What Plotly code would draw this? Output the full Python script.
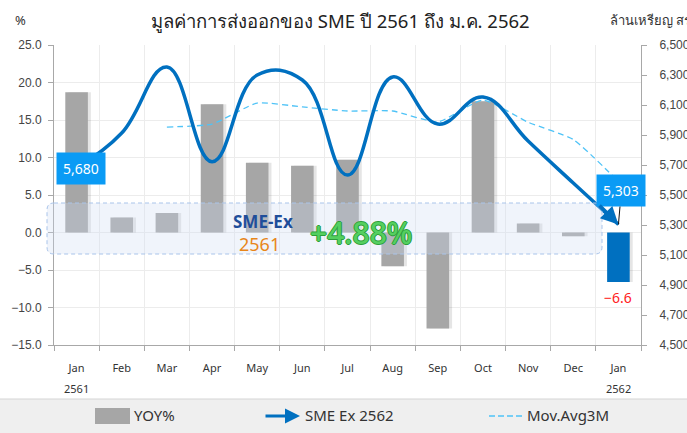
import plotly.graph_objects as go

# ---------------- data ----------------
months = ["Jan", "Feb", "Mar", "Apr", "May", "Jun", "Jul", "Aug", "Sep", "Oct", "Nov", "Dec", "Jan"]
years = {0: "2561", 12: "2562"}
yoy = [18.7, 2.0, 2.6, 17.1, 9.3, 8.9, 9.7, -4.5, -12.8, 17.5, 1.2, -0.5, -6.6]
sme_ex = [5680, 5913, 6353, 5722, 6300, 6267, 5633, 6287, 5973, 6153, 5860, 5580, 5303]
mov_avg_x = [2, 3, 4, 5, 6, 7, 8, 9, 10, 11, 12]
mov_avg = [5953, 5973, 6113, 6087, 6060, 6060, 5987, 6133, 5985, 5870, 5590]
left_ticks = [-15, -10, -5, 0, 5, 10, 15, 20, 25]
right_ticks = [4500, 4700, 4900, 5100, 5300, 5500, 5700, 5900, 6100, 6300, 6500]

x = list(range(len(months)))

# ---------------- geometry helpers (pixel -> paper) ----------------
W, H = 687, 433
ML, MR, MT, MB = 54, 46, 45, 88
PW, PH = W - ML - MR, H - MT - MB


def px(v):
    return (v - ML) / PW


def py(v):
    return (H - MB - v) / PH


GRAY = "#A6A6A6"
BLUE = "#0070C0"
LBLUE = "#4FC3F7"
TAG = "#0A9BF5"

bar_colors = [GRAY] * (len(yoy) - 1) + [BLUE]

fig = go.Figure()

# bar shadow
fig.add_trace(go.Bar(x=x, y=yoy, width=0.5, offset=-0.25 + 3.0 / (PW / 13),
                     marker=dict(color="rgba(0,0,0,0.10)", line=dict(width=0)),
                     hoverinfo="skip", showlegend=False))
fig.add_trace(go.Bar(x=x, y=yoy, width=0.5, offset=-0.25,
                     marker=dict(color=bar_colors, line=dict(width=0)),
                     name="YOY%", showlegend=False))
fig.add_trace(go.Scatter(x=mov_avg_x, y=mov_avg, yaxis="y2", mode="lines",
                         line=dict(color=LBLUE, width=1.3, dash="6px,4px", shape="spline", smoothing=0.5),
                         name="Mov.Avg3M", showlegend=False))
fig.add_trace(go.Scatter(x=x, y=sme_ex, yaxis="y2", mode="lines",
                         line=dict(color=BLUE, width=3.5, shape="spline", smoothing=1.2),
                         name="SME Ex 2562", showlegend=False))

shapes = []
# highlight box (rounded, dashed)
x0, x1 = px(47), px(602)
y1, y0 = py(203), py(254)
rx, ry = 7 / PW, 7 / PH
path = (f"M {x0+rx},{y1} L {x1-rx},{y1} Q {x1},{y1} {x1},{y1-ry} L {x1},{y0+ry} "
        f"Q {x1},{y0} {x1-rx},{y0} L {x0+rx},{y0} Q {x0},{y0} {x0},{y0+ry} "
        f"L {x0},{y1-ry} Q {x0},{y1} {x0+rx},{y1} Z")
shapes.append(dict(type="path", path=path, xref="paper", yref="paper", layer="above",
                   fillcolor="rgba(205,220,242,0.30)",
                   line=dict(color="#A9C4EA", width=1, dash="4px,3px")))
# legend band
shapes.append(dict(type="rect", xref="paper", yref="paper", x0=px(0), x1=px(W), y0=py(399), y1=py(H),
                   fillcolor="#EFEFEF", line=dict(width=0), layer="below"))
shapes.append(dict(type="line", xref="paper", yref="paper", x0=px(0), x1=px(W), y0=py(399), y1=py(399),
                   line=dict(color="#D5D5D5", width=1)))
# legend: gray swatch
shapes.append(dict(type="rect", xref="paper", yref="paper", x0=px(95), x1=px(130), y0=py(424), y1=py(408),
                   fillcolor=GRAY, line=dict(width=0)))
# legend: dashed line
shapes.append(dict(type="line", xref="paper", yref="paper", x0=px(489), x1=px(524), y0=py(416), y1=py(416),
                   line=dict(color=LBLUE, width=1.3, dash="6px,3px")))


def txt(text, xv, yv, size, color, xanchor="center", weight=None, family=None, shadow=None, **kw):
    f = dict(size=size, color=color)
    if weight:
        f["weight"] = weight
    if family:
        f["family"] = family
    if shadow:
        f["shadow"] = shadow
    d = dict(text=text, xref="paper", yref="paper", x=px(xv), y=py(yv), showarrow=False,
             xanchor=xanchor, yanchor="middle", font=f)
    d.update(kw)
    return d


ann = []
# title & axis titles
ann.append(txt("มูลค่าการส่งออกของ SME ปี 2561 ถึง ม.ค. 2562", 340, 20, 18.5, "#222222"))
ann.append(txt("%", 20, 20, 13, "#333333"))
ann.append(txt("ล้านเหรียญ สรอ", 608, 20, 13, "#333333", xanchor="left"))
# year labels
for i, yr in years.items():
    ann.append(dict(text=yr, x=i, xref="x", yref="paper", y=py(388), showarrow=False,
                    xanchor="center", yanchor="middle", font=dict(size=11, color="#333333")))
# value tags
ann.append(dict(text="5,680", x=0, y=sme_ex[0], xref="x", yref="y2", showarrow=False,
                xanchor="center", yanchor="middle",
                xshift=4, bgcolor=TAG, borderpad=6, font=dict(size=14, color="white")))
ann.append(dict(text="5,303", x=12, y=sme_ex[12], xref="x", yref="y2", showarrow=True,
                xanchor="center", yanchor="middle",
                arrowhead=0, arrowwidth=1, arrowcolor="#111111", ax=3, ay=-34,
                bgcolor=TAG, borderpad=6, font=dict(size=14, color="white")))
ann.append(dict(text="−6.6", x=12, y=yoy[12], xref="x", yref="y", yanchor="top", xanchor="center",
                yshift=-4, showarrow=False, font=dict(size=14, color="#FF2020")))
# arrow head at end of SME line
ann.append(dict(text="", x=12, y=sme_ex[12], xref="x", yref="y2", axref="x", ayref="y2",
                ax=11.55, ay=5440, showarrow=True, arrowhead=2, arrowsize=1.0, arrowwidth=3.5,
                arrowcolor=BLUE, standoff=0))
# box texts
ann.append(txt("<b>SME-Ex</b>", 263, 221, 17, "#1F4E9A"))
ann.append(txt("2561", 259, 244, 18, "#E8861A"))
ann.append(txt("+4.88%", 361, 232, 30, "#55CF60", weight=500,
               shadow="1px 0 0 #2C9E3A, -1px 0 0 #2C9E3A, 0 1px 0 #2C9E3A, 0 -1px 0 #2C9E3A"))
# legend texts / arrow
ann.append(txt("YOY%", 132, 415, 15, "#333333", xanchor="left"))
ann.append(dict(text="", xref="paper", yref="paper", x=px(300), y=py(416), ax=-36, ay=0,
                showarrow=True, arrowhead=2, arrowsize=1.0, arrowwidth=3, arrowcolor=BLUE, standoff=0))
ann.append(txt("SME Ex 2562", 303, 415, 15, "#333333", xanchor="left"))
ann.append(txt("Mov.Avg3M", 525, 415, 15, "#333333", xanchor="left"))

fig.update_layout(
    width=W, height=H,
    margin=dict(l=ML, r=MR, t=MT, b=MB, autoexpand=False),
    paper_bgcolor="white", plot_bgcolor="white",
    barmode="overlay",
    font=dict(family="Noto Sans, Liberation Sans, sans-serif", color="#444444"),
    shapes=shapes, annotations=ann,
    xaxis=dict(range=[-0.5, 12.5], tickmode="array", tickvals=x, ticktext=months,
               showgrid=False, ticks="", zeroline=False, automargin=False,
               showline=True, linecolor="#A8A8A8", linewidth=1,
               tickfont=dict(size=11, color="#333333"), ticklabelstandoff=13,
               minor=dict(tick0=0.5, dtick=1, showgrid=True, gridcolor="#ECECEC",
                          ticks="outside", ticklen=5, tickcolor="#A8A8A8")),
    yaxis=dict(range=[-15, 25], tickmode="array", tickvals=left_ticks, tickformat=".1f",
               showgrid=True, gridcolor="#ECECEC", zeroline=False, automargin=False,
               showline=True, linecolor="#A8A8A8", ticks="outside", ticklen=5, tickcolor="#A8A8A8",
               ticklabelstandoff=4,
               tickfont=dict(family="Liberation Sans, Arial", size=12, color="#444444")),
    yaxis2=dict(range=[4500, 6500], overlaying="y", side="right", tickmode="array", tickvals=right_ticks,
                tickformat=",", showgrid=False, zeroline=False, automargin=False,
                showline=True, linecolor="#A8A8A8", ticks="outside", ticklen=5, tickcolor="#A8A8A8",
                ticklabelstandoff=10,
                tickfont=dict(family="Liberation Sans, Arial", size=12, color="#444444")),
)

fig.write_html("out.html", config={"displayModeBar": False},
               post_script="document.body.style.margin='0';document.body.style.overflow='hidden';")
